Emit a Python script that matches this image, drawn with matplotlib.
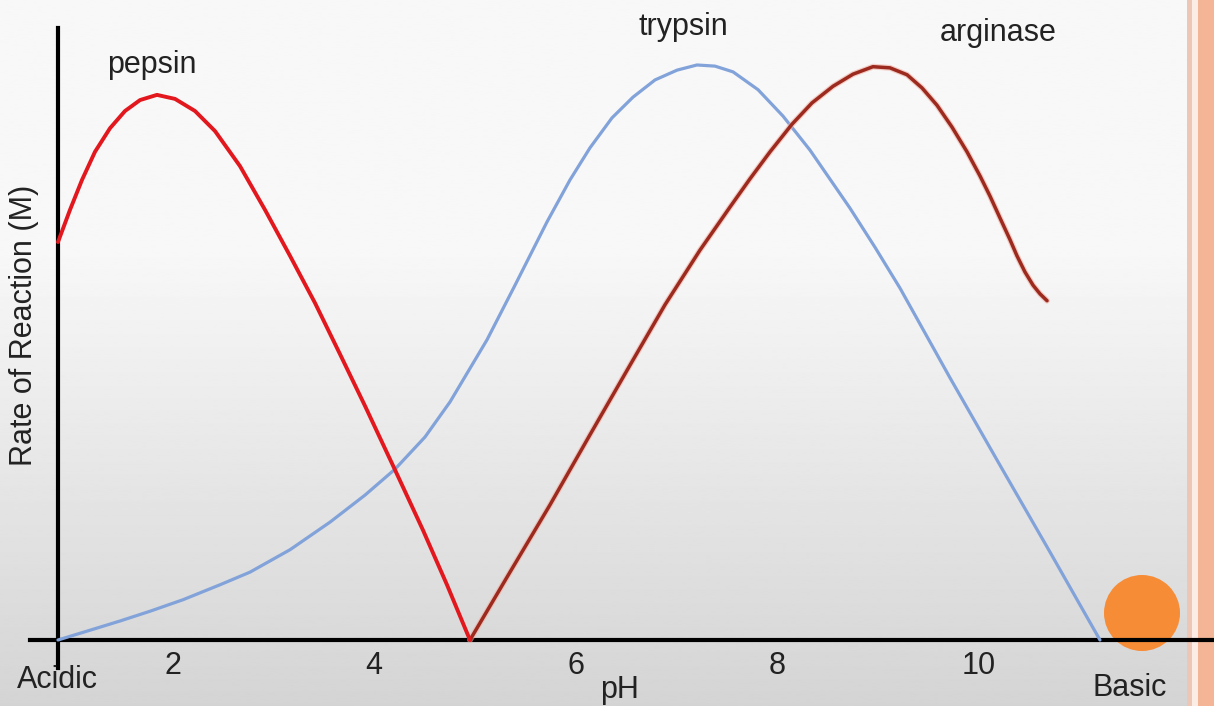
import numpy as np
import matplotlib
matplotlib.use("Agg")
import matplotlib.pyplot as plt
from matplotlib.patches import Ellipse, Rectangle

# ---- data (pH, rate of reaction, relative units) ----
pepsin_ph = [0.863, 0.982, 1.101, 1.230, 1.379, 1.528, 1.677, 1.845, 2.024, 2.222,
             2.421, 2.669, 2.917, 3.165, 3.413, 3.661, 3.909, 4.206, 4.484, 4.722, 4.950]
pepsin_rate = [0.692, 0.748, 0.800, 0.849, 0.890, 0.920, 0.939, 0.948, 0.941, 0.920,
               0.885, 0.824, 0.748, 0.668, 0.586, 0.497, 0.407, 0.296, 0.191, 0.096, 0.0]

trypsin_ph = [0.863, 1.181, 1.478, 1.776, 2.103, 2.470, 2.768, 3.165, 3.562, 3.909,
              4.206, 4.504, 4.752, 5.119, 5.397, 5.714, 5.942, 6.141, 6.359, 6.567,
              6.786, 7.004, 7.202, 7.381, 7.560, 7.808, 8.056, 8.323, 8.720, 8.968,
              9.216, 9.712, 10.208, 10.704, 11.200]
trypsin_rate = [0.0, 0.017, 0.033, 0.050, 0.070, 0.096, 0.118, 0.157, 0.205, 0.252,
                0.297, 0.353, 0.414, 0.522, 0.617, 0.727, 0.800, 0.856, 0.908, 0.944,
                0.974, 0.991, 1.000, 0.998, 0.988, 0.957, 0.911, 0.852, 0.751, 0.683,
                0.612, 0.456, 0.304, 0.153, 0.0]

arginase_ph = [4.950, 5.347, 5.744, 6.141, 6.538, 6.885, 7.232, 7.530, 7.728, 7.927,
               8.145, 8.343, 8.552, 8.750, 8.948, 9.117, 9.286, 9.435, 9.583, 9.732,
               9.881, 10.010, 10.109, 10.208, 10.308, 10.377, 10.456, 10.536, 10.605, 10.675]
arginase_rate = [0.0, 0.118, 0.235, 0.357, 0.478, 0.583, 0.678, 0.753, 0.802, 0.849,
                 0.897, 0.934, 0.963, 0.984, 0.997, 0.995, 0.983, 0.960, 0.930, 0.892,
                 0.849, 0.807, 0.772, 0.734, 0.696, 0.668, 0.640, 0.617, 0.602, 0.590]

tick_values = [2, 4, 6, 8, 10]
tick_labels = ["2", "4", "6", "8", "10"]

# ---- figure ----
W, H = 1214, 706
fig = plt.figure(figsize=(W / 100, H / 100), dpi=100)
ax = fig.add_axes([0, 0, 1, 1])
plt.rcParams['font.family'] = ['Liberation Sans', 'DejaVu Sans']
FONT = ['Liberation Sans', 'DejaVu Sans']
TXT = '#222222'
FS = 22

xlo, xhi = 0.2877, 12.3313
ylo, yhi = -0.1148, 1.1130
ax.set_xlim(xlo, xhi)
ax.set_ylim(ylo, yhi)

# background gradient (top light -> bottom gray)
g = np.linspace(0, 1, 400)
vals = np.where(g < 0.35, 0.972, 0.972 - (g - 0.35) / 0.65 * 0.14)
ax.imshow(vals[:, None], cmap='gray', vmin=0, vmax=1, aspect='auto',
          extent=[0, 1, 0, 1], transform=ax.transAxes, zorder=0, interpolation='bilinear')

# right decorative stripe
def fx(px):
    return px / W

ax.add_patch(Rectangle((fx(1187), 0), fx(5), 1, transform=ax.transAxes,
                       color='#eec6b6', lw=0, zorder=0.5))
ax.add_patch(Rectangle((fx(1192), 0), fx(6), 1, transform=ax.transAxes,
                       color='#fbece6', lw=0, zorder=0.5))
ax.add_patch(Rectangle((fx(1198), 0), fx(16), 1, transform=ax.transAxes,
                       color='#f3b595', lw=0, zorder=0.5))

# orange circle
ax.add_patch(Ellipse((1142 / W, 1 - 613 / H), 76 / W, 76 / H, transform=ax.transAxes,
                     color='#f78c37', lw=0, zorder=1.5))

# curves
ax.plot(trypsin_ph, trypsin_rate, color='#82a2da', lw=2.3, zorder=3,
        solid_joinstyle='round', solid_capstyle='round')
ax.plot(arginase_ph, arginase_rate, color='#f0b0a4', lw=4.2, alpha=0.6, zorder=3.4,
        solid_joinstyle='round', solid_capstyle='round')
ax.plot(arginase_ph, arginase_rate, color='#9c2a1e', lw=2.5, zorder=3.5,
        solid_joinstyle='round', solid_capstyle='round')
ax.plot(pepsin_ph, pepsin_rate, color='#e2181e', lw=2.8, zorder=4,
        solid_joinstyle='round', solid_capstyle='round')

# axes lines
for s in ['top', 'right']:
    ax.spines[s].set_visible(False)
ax.spines['left'].set_position(('data', 0.863))
ax.spines['left'].set_bounds(-0.0487, 1.064)
ax.spines['bottom'].set_position(('data', 0.0))
ax.spines['bottom'].set_bounds(0.585, xhi)
for s in ['left', 'bottom']:
    ax.spines[s].set_linewidth(3.0)
    ax.spines[s].set_color('black')
    ax.spines[s].set_zorder(2.5)

ax.set_yticks([])
ax.set_xticks(tick_values)
ax.set_xticklabels(tick_labels, fontsize=FS, color=TXT, family=FONT)
ax.tick_params(axis='x', length=0, pad=8)

# text labels (pixel positions -> figure fraction)
def put(px, py, s, **kw):
    ax.text(px / W, 1 - py / H, s, transform=ax.transAxes, ha='center', va='center',
            fontsize=FS, color=TXT, family=FONT, **kw)

put(152, 65, 'pepsin')
put(683, 27, 'trypsin')
put(998, 33, 'arginase')
put(57, 680, 'Acidic')
put(1130, 688, 'Basic')
put(620, 690, 'pH')
put(24, 325, 'Rate of Reaction (M)', rotation=90)

fig.savefig('out.png', dpi=100)
